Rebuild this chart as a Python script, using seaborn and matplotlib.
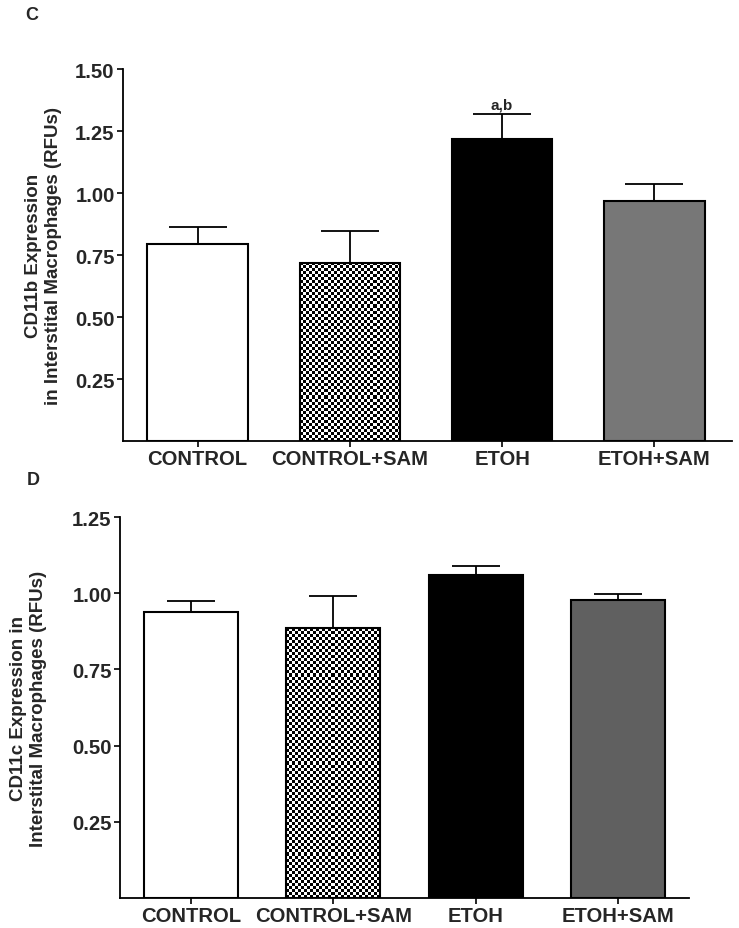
import numpy as np
import pandas as pd
import matplotlib
matplotlib.use("Agg")
import matplotlib.pyplot as plt
import seaborn as sns

sns.set_style("ticks")
plt.rcParams['font.family'] = ['Liberation Sans', 'DejaVu Sans']
plt.rcParams['font.weight'] = 'bold'

groups = ['CONTROL', 'CONTROL+SAM', 'ETOH', 'ETOH+SAM']

cd11b_mean = [0.794, 0.718, 1.218, 0.968]
cd11b_sem = [0.069, 0.129, 0.101, 0.068]

cd11c_mean = [0.938, 0.885, 1.059, 0.977]
cd11c_sem = [0.036, 0.105, 0.030, 0.020]

colors_c = ['white', 'white', 'black', '#777777']
colors_d = ['white', 'white', 'black', '#606060']

W, H = 739, 929
fig = plt.figure(figsize=(W / 100, H / 100), dpi=100)


def checker(ax, patch, cell=3):
    # fine checkerboard texture, clipped to the bar
    fig.canvas.draw()
    bb = patch.get_window_extent()
    nx = max(int(bb.width / cell), 1)
    ny = max(int(bb.height / cell), 1)
    yy, xx = np.mgrid[0:ny, 0:nx]
    img = ((xx + yy) % 2).astype(float)
    x0, y0 = patch.get_x(), patch.get_y()
    w, h = patch.get_width(), patch.get_height()
    im = ax.imshow(img, cmap='gray', extent=(x0, x0 + w, y0, y0 + h),
                   interpolation='nearest', aspect='auto', zorder=patch.get_zorder() + 0.1)
    im.set_clip_path(patch)
    patch.set_facecolor('none')
    patch.set_zorder(patch.get_zorder() + 0.2)


def panel(rect, means, sems, colors, ylim, yticks, ylabel, capsize, lab_x, xlim):
    ax = fig.add_axes(rect)
    df = pd.DataFrame({'group': groups, 'value': means})
    sns.barplot(data=df, x='group', y='value', hue='group', palette=colors,
                legend=False, edgecolor='black', linewidth=1.5, width=0.66,
                saturation=1, ax=ax)
    ax.errorbar(range(len(groups)), means, yerr=[np.zeros(len(sems)), sems],
                fmt='none', ecolor='black', elinewidth=1.3, capsize=capsize,
                capthick=1.3, zorder=1)
    ax.set_xlim(*xlim)
    ax.set_ylim(*ylim)
    ax.set_yticks(yticks)
    ax.set_yticklabels([f'{t:.2f}' for t in yticks])
    ax.set_xlabel('')
    ax.set_ylabel(ylabel, fontsize=13.5, fontweight='bold', linespacing=1.25)
    ax.yaxis.set_label_coords(lab_x, 0.5)
    sns.despine(ax=ax)
    for s in ['left', 'bottom']:
        ax.spines[s].set_linewidth(1.3)
        ax.spines[s].set_color('black')
    ax.tick_params(axis='both', length=4, width=1.2, color='black',
                   labelsize=14.6, pad=2)
    ax.tick_params(axis='x', pad=2)
    for t in ax.get_xticklabels() + ax.get_yticklabels():
        t.set_fontweight('bold')
    checker(ax, ax.patches[1])
    return ax


ax_c = panel([123 / W, 1 - 442 / H, (732 - 123) / W, 372 / H],
             cd11b_mean, cd11b_sem, colors_c, (0, 1.5),
             [0.25, 0.5, 0.75, 1.0, 1.25, 1.5],
             'CD11b Expression\nin Interstital Macrophages (RFUs)', 21, -0.10,
             (-0.49, 3.51))
ax_c.text(2, cd11b_mean[2] + cd11b_sem[2] + 0.01, 'a,b', ha='center', va='bottom',
          fontsize=11, fontweight='bold')

ax_d = panel([120 / W, 1 - 899 / H, (689 - 120) / W, 381 / H],
             cd11c_mean, cd11c_sem, colors_d, (0, 1.25),
             [0.25, 0.5, 0.75, 1.0, 1.25],
             'CD11c Expression in\nInterstital Macrophages (RFUs)', 17, -0.128,
             (-0.5, 3.5))

fig.text(25 / W, 1 - 15 / H, 'C', fontsize=13, fontweight='bold', va='center', ha='left')
fig.text(27 / W, 1 - 481 / H, 'D', fontsize=13, fontweight='bold', va='center', ha='left')

fig.savefig('out.png', dpi=100)
